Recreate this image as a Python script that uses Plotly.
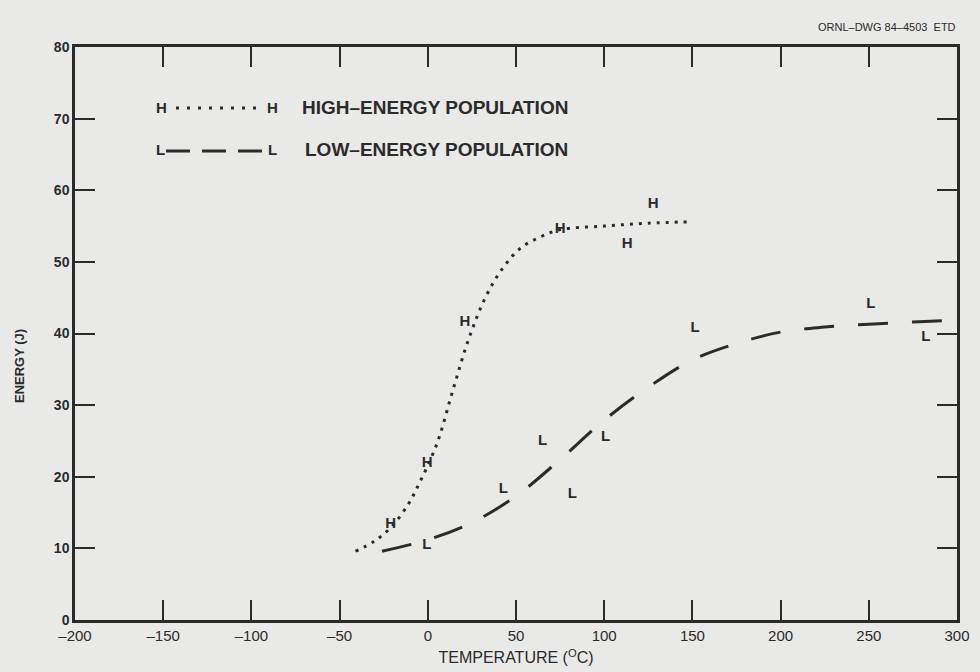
import plotly.graph_objects as go

# ---- data ----
h_curve_x = [-41, -31, -21, -11, -6, 5, 14, 23, 33, 43, 53, 64, 75, 100, 125, 149]
h_curve_y = [9.6, 10.9, 12.9, 16.2, 18.5, 24.5, 31.9, 39.1, 45.2, 49.3, 52.0, 53.5, 54.5, 55.0, 55.4, 55.6]

l_curve_x = [-26, 0, 25, 50, 75, 100, 125, 150, 175, 200, 225, 250, 275, 300]
l_curve_y = [9.6, 11.2, 13.6, 17.3, 22.4, 27.9, 32.5, 36.3, 38.6, 40.2, 40.9, 41.3, 41.6, 41.9]

h_pts_x = [-21, -0.4, 21, 75, 127.7, 113]
h_pts_y = [13.3, 21.9, 41.6, 54.6, 58.1, 52.5]

l_pts_x = [-0.6, 42.8, 65.1, 81.9, 100.8, 151.5, 251.2, 282.4]
l_pts_y = [10.4, 18.2, 25.0, 17.6, 25.5, 40.8, 44.1, 39.5]

x_ticks = [-200, -150, -100, -50, 0, 50, 100, 150, 200, 250, 300]
y_ticks = [0, 10, 20, 30, 40, 50, 60, 70, 80]

INK = "#2b2b2b"
BG = "#e9e9e7"
FONT = "Liberation Sans, Arial, sans-serif"

W, H = 980, 672
ML, MR, MT, MB = 75, 23, 47, 52


def px(xp):
    return (xp - ML) / (W - ML - MR)


def py(yp):
    return (H - MB - yp) / (H - MT - MB)


fig = go.Figure()

fig.add_trace(go.Scatter(x=h_curve_x, y=h_curve_y, mode="lines",
                         line=dict(color=INK, width=3, dash="3px,6px", shape="spline"),
                         showlegend=False, hoverinfo="skip"))
fig.add_trace(go.Scatter(x=l_curve_x, y=l_curve_y, mode="lines",
                         line=dict(color=INK, width=3, dash="30px,24px", shape="spline"),
                         showlegend=False, hoverinfo="skip"))
fig.add_trace(go.Scatter(x=h_pts_x, y=h_pts_y, mode="text", text=["<b>H</b>"] * len(h_pts_x),
                         textfont=dict(family=FONT, size=15, color=INK),
                         showlegend=False))
fig.add_trace(go.Scatter(x=l_pts_x, y=l_pts_y, mode="text", text=["<b>L</b>"] * len(l_pts_x),
                         textfont=dict(family=FONT, size=15, color=INK),
                         showlegend=False))

# key drawn in paper coordinates
shapes = [
    dict(type="line", xref="paper", yref="paper", x0=px(176), x1=px(263), y0=py(108), y1=py(108),
         line=dict(color=INK, width=3, dash="3px,8px")),
    dict(type="line", xref="paper", yref="paper", x0=px(166), x1=px(267), y0=py(151), y1=py(151),
         line=dict(color=INK, width=3, dash="24px,12px")),
]
annotations = [
    dict(text="<b>H</b>", x=px(161), y=py(107)),
    dict(text="<b>H</b>", x=px(272), y=py(107)),
    dict(text="<b>L</b>", x=px(160), y=py(150)),
    dict(text="<b>L</b>", x=px(272), y=py(150)),
]
for a in annotations:
    a.update(xref="paper", yref="paper", xanchor="center", yanchor="middle", showarrow=False,
             font=dict(family=FONT, size=15, color=INK))
annotations += [
    dict(text="<b>HIGH–ENERGY POPULATION</b>", x=px(300), y=py(107), xanchor="left", yanchor="middle",
         xref="paper", yref="paper", showarrow=False, font=dict(family=FONT, size=19, color=INK)),
    dict(text="<b>LOW–ENERGY POPULATION</b>", x=px(303), y=py(150), xanchor="left", yanchor="middle",
         xref="paper", yref="paper", showarrow=False, font=dict(family=FONT, size=19, color=INK)),
    dict(text="ORNL–DWG 84–4503  ETD", x=px(958), y=py(27), xanchor="right", yanchor="middle",
         xref="paper", yref="paper", showarrow=False, font=dict(family=FONT, size=11, color=INK)),
    dict(text="<b>ENERGY (J)</b>", x=px(19), y=py(366), xanchor="center", yanchor="middle", textangle=-90,
         xref="paper", yref="paper", showarrow=False, font=dict(family=FONT, size=13, color=INK)),
]

fig.update_layout(
    width=W, height=H,
    margin=dict(l=ML, r=MR, t=MT, b=MB),
    paper_bgcolor=BG, plot_bgcolor=BG,
    font=dict(family=FONT, color=INK),
    shapes=shapes, annotations=annotations,
    showlegend=False,
)
fig.update_xaxes(range=[-200, 300], tickvals=x_ticks, ticktext=[str(v).replace("-", "–") for v in x_ticks],
                 automargin=False,
                 showgrid=False, zeroline=False, showline=True, linecolor=INK, linewidth=2.5,
                 mirror="allticks", ticks="inside", ticklen=20, tickwidth=2, tickcolor=INK,
                 tickfont=dict(family=FONT, size=15, color=INK),
                 title=dict(text="TEMPERATURE (<sup>O</sup>C)", font=dict(family=FONT, size=16, color=INK), standoff=10))
fig.update_yaxes(range=[0, 80], tickvals=y_ticks, ticktext=[f"<b>{v}</b>" for v in y_ticks],
                 automargin=False,
                 showgrid=False, zeroline=False, showline=True, linecolor=INK, linewidth=2.5,
                 mirror="allticks", ticks="inside", ticklen=20, tickwidth=2, tickcolor=INK,
                 tickfont=dict(family=FONT, size=14, color=INK))

fig.write_html("out.html", config={"displayModeBar": False}, post_script=(
    "document.body.style.margin='0';document.body.style.padding='0';"
    "document.body.style.background='#e9e9e7';document.body.style.overflow='hidden';"))
